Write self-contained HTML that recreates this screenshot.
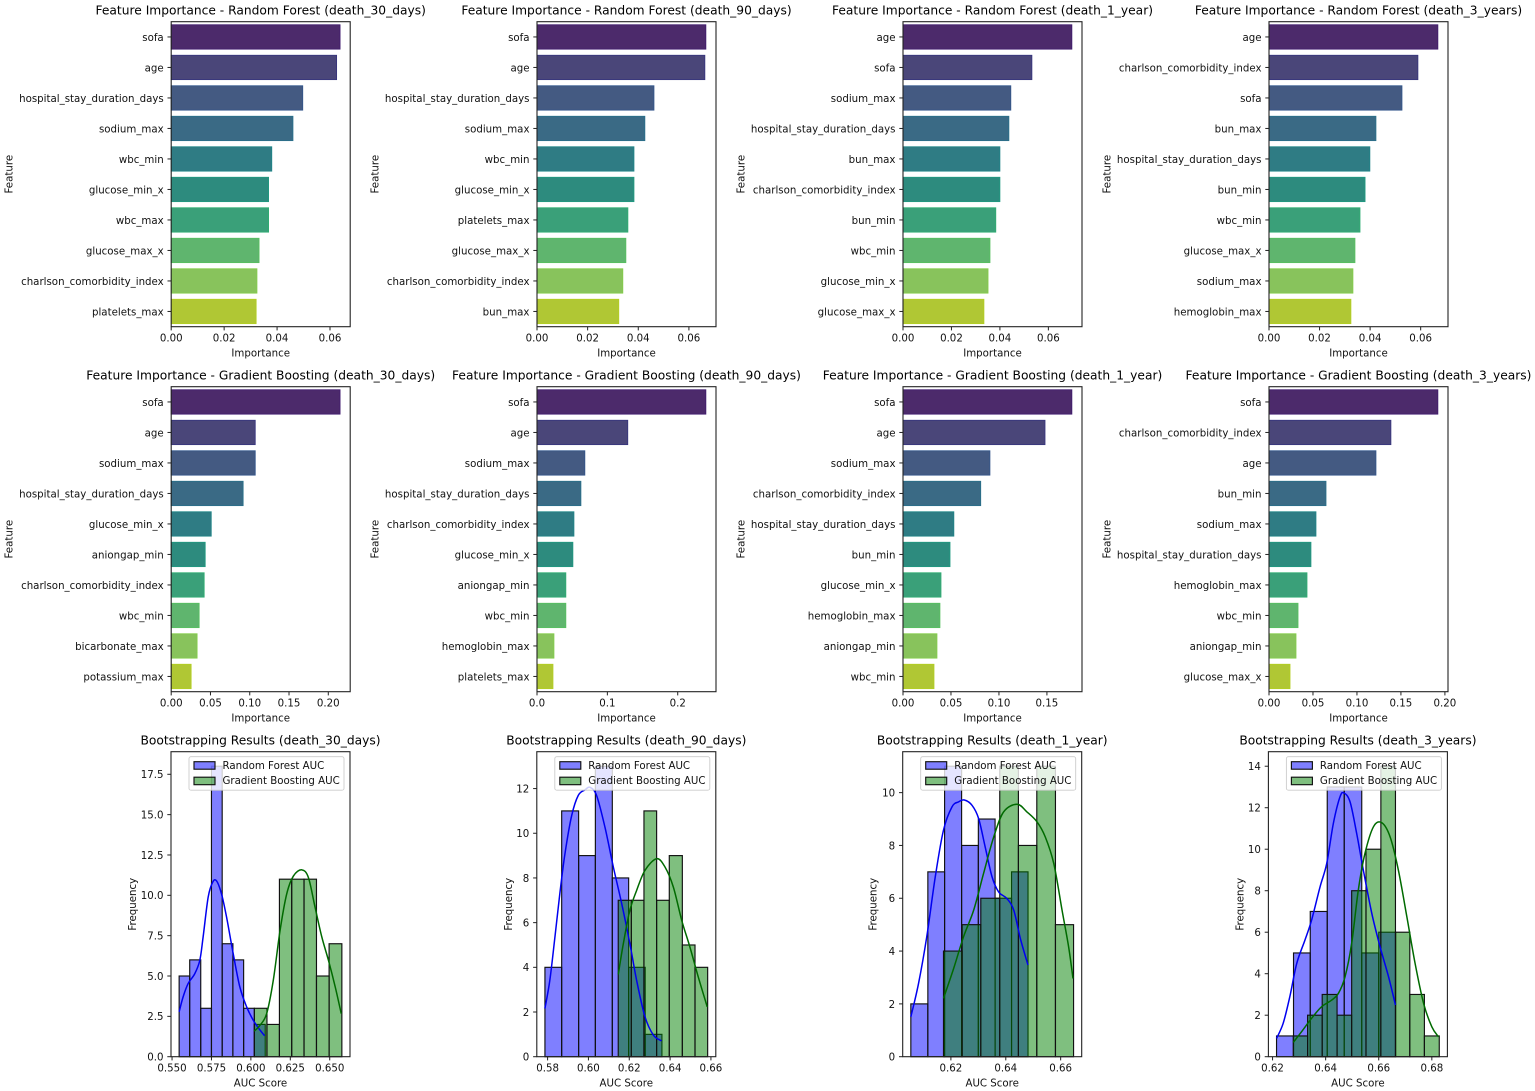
<!DOCTYPE html>
<html lang="en">
<head>
<meta charset="utf-8">
<title>Feature importance and bootstrapping results</title>
<style>
html,body{margin:0;padding:0;background:#fff;width:1535px;height:1091px;overflow:hidden}
svg{display:block;filter:blur(0.35px)}
text{font-family:"DejaVu Sans","Liberation Sans",sans-serif;font-size:10.23px;fill:#111}
.title{font-size:12.25px;text-anchor:middle;fill:#000}
.axl{text-anchor:middle}
.frame{fill:none;stroke:#222;stroke-width:1.1}
.lg{fill:#fff;fill-opacity:.8;stroke:#ccc;stroke-width:.9}
.rf{fill:#0000ff;fill-opacity:.5;stroke:#111;stroke-width:1.15}
.gb{fill:#008000;fill-opacity:.5;stroke:#111;stroke-width:1.15}
</style>
</head>
<body>
<svg id="fig" width="1535" height="1091" viewBox="0 0 1535 1091" xmlns="http://www.w3.org/2000/svg">
<rect width="1535" height="1091" fill="#fff"/>

<g transform="translate(171.2,21.7)">
<g id="m0"></g><rect class="frame" width="179" height="305"/><g id="t0"></g>
<text class="title" x="89.5" y="-7.2">Feature Importance - Random Forest (death_30_days)</text>
<text class="axl" x="89.5" y="335">Importance</text>
<text class="axl" transform="translate(-158.5,152.5) rotate(-90)">Feature</text>
</g>
<g transform="translate(537,21.7)">
<g id="m1"></g><rect class="frame" width="179" height="305"/><g id="t1"></g>
<text class="title" x="89.5" y="-7.2">Feature Importance - Random Forest (death_90_days)</text>
<text class="axl" x="89.5" y="335">Importance</text>
<text class="axl" transform="translate(-158.5,152.5) rotate(-90)">Feature</text>
</g>
<g transform="translate(903,21.7)">
<g id="m2"></g><rect class="frame" width="179" height="305"/><g id="t2"></g>
<text class="title" x="89.5" y="-7.2">Feature Importance - Random Forest (death_1_year)</text>
<text class="axl" x="89.5" y="335">Importance</text>
<text class="axl" transform="translate(-158.5,152.5) rotate(-90)">Feature</text>
</g>
<g transform="translate(1269,21.7)">
<g id="m3"></g><rect class="frame" width="179" height="305"/><g id="t3"></g>
<text class="title" x="89.5" y="-7.2">Feature Importance - Random Forest (death_3_years)</text>
<text class="axl" x="89.5" y="335">Importance</text>
<text class="axl" transform="translate(-158.5,152.5) rotate(-90)">Feature</text>
</g>

<g transform="translate(171.2,386.7)">
<g id="m4"></g><rect class="frame" width="179" height="305"/><g id="t4"></g>
<text class="title" x="89.5" y="-7.2">Feature Importance - Gradient Boosting (death_30_days)</text>
<text class="axl" x="89.5" y="335">Importance</text>
<text class="axl" transform="translate(-158.5,152.5) rotate(-90)">Feature</text>
</g>
<g transform="translate(537,386.7)">
<g id="m5"></g><rect class="frame" width="179" height="305"/><g id="t5"></g>
<text class="title" x="89.5" y="-7.2">Feature Importance - Gradient Boosting (death_90_days)</text>
<text class="axl" x="89.5" y="335">Importance</text>
<text class="axl" transform="translate(-158.5,152.5) rotate(-90)">Feature</text>
</g>
<g transform="translate(903,386.7)">
<g id="m6"></g><rect class="frame" width="179" height="305"/><g id="t6"></g>
<text class="title" x="89.5" y="-7.2">Feature Importance - Gradient Boosting (death_1_year)</text>
<text class="axl" x="89.5" y="335">Importance</text>
<text class="axl" transform="translate(-158.5,152.5) rotate(-90)">Feature</text>
</g>
<g transform="translate(1269,386.7)">
<g id="m7"></g><rect class="frame" width="179" height="305"/><g id="t7"></g>
<text class="title" x="89.5" y="-7.2">Feature Importance - Gradient Boosting (death_3_years)</text>
<text class="axl" x="89.5" y="335">Importance</text>
<text class="axl" transform="translate(-158.5,152.5) rotate(-90)">Feature</text>
</g>

<g transform="translate(171,751.7)">
<g id="m8"></g><rect class="frame" width="179" height="305"/><g id="t8"></g>
<text class="title" x="89.5" y="-7.2">Bootstrapping Results (death_30_days)</text>
<text class="axl" x="89.5" y="335">AUC Score</text>
<text class="axl" transform="translate(-35,152.5) rotate(-90)">Frequency</text>
<g><rect class="lg" x="18" y="5" width="155" height="33.5" rx="2"/><rect class="rf" x="23" y="10" width="21" height="7.5"/><text x="51.5" y="17.5">Random Forest AUC</text><rect class="gb" x="23" y="25.5" width="21" height="7.5"/><text x="51.5" y="32.5">Gradient Boosting AUC</text></g>
</g>
<g transform="translate(536.8,751.7)">
<g id="m9"></g><rect class="frame" width="179" height="305"/><g id="t9"></g>
<text class="title" x="89.5" y="-7.2">Bootstrapping Results (death_90_days)</text>
<text class="axl" x="89.5" y="335">AUC Score</text>
<text class="axl" transform="translate(-25,152.5) rotate(-90)">Frequency</text>
<g><rect class="lg" x="18" y="5" width="155" height="33.5" rx="2"/><rect class="rf" x="23" y="10" width="21" height="7.5"/><text x="51.5" y="17.5">Random Forest AUC</text><rect class="gb" x="23" y="25.5" width="21" height="7.5"/><text x="51.5" y="32.5">Gradient Boosting AUC</text></g>
</g>
<g transform="translate(902.7,751.7)">
<g id="m10"></g><rect class="frame" width="179" height="305"/><g id="t10"></g>
<text class="title" x="89.5" y="-7.2">Bootstrapping Results (death_1_year)</text>
<text class="axl" x="89.5" y="335">AUC Score</text>
<text class="axl" transform="translate(-26,152.5) rotate(-90)">Frequency</text>
<g><rect class="lg" x="18" y="5" width="155" height="33.5" rx="2"/><rect class="rf" x="23" y="10" width="21" height="7.5"/><text x="51.5" y="17.5">Random Forest AUC</text><rect class="gb" x="23" y="25.5" width="21" height="7.5"/><text x="51.5" y="32.5">Gradient Boosting AUC</text></g>
</g>
<g transform="translate(1268.4,751.7)">
<g id="m11"></g><rect class="frame" width="179" height="305"/><g id="t11"></g>
<text class="title" x="89.5" y="-7.2">Bootstrapping Results (death_3_years)</text>
<text class="axl" x="89.5" y="335">AUC Score</text>
<text class="axl" transform="translate(-25,152.5) rotate(-90)">Frequency</text>
<g><rect class="lg" x="18" y="5" width="155" height="33.5" rx="2"/><rect class="rf" x="23" y="10" width="21" height="7.5"/><text x="51.5" y="17.5">Random Forest AUC</text><rect class="gb" x="23" y="25.5" width="21" height="7.5"/><text x="51.5" y="32.5">Gradient Boosting AUC</text></g>
</g>
</svg>

<script>
// ---- Feature importance data ----
var rf30Features = ['sofa','age','hospital_stay_duration_days','sodium_max','wbc_min','glucose_min_x','wbc_max','glucose_max_x','charlson_comorbidity_index','platelets_max'];
var rf30Values = [0.0638,0.0625,0.0497,0.046,0.038,0.0368,0.0368,0.0332,0.0324,0.0321];
var rf30Ticks = ['0.00','0.02','0.04','0.06'];

var rf90Features = ['sofa','age','hospital_stay_duration_days','sodium_max','wbc_min','glucose_min_x','platelets_max','glucose_max_x','charlson_comorbidity_index','bun_max'];
var rf90Values = [0.0667,0.0663,0.0462,0.0426,0.0383,0.0383,0.0359,0.0351,0.0339,0.0323];
var rf90Ticks = ['0.00','0.02','0.04','0.06'];

var rf1yFeatures = ['age','sofa','sodium_max','hospital_stay_duration_days','bun_max','charlson_comorbidity_index','bun_min','wbc_min','glucose_min_x','glucose_max_x'];
var rf1yValues = [0.0697,0.0532,0.0445,0.0437,0.04,0.04,0.0383,0.0359,0.0351,0.0334];
var rf1yTicks = ['0.00','0.02','0.04','0.06'];

var rf3yFeatures = ['age','charlson_comorbidity_index','sofa','bun_max','hospital_stay_duration_days','bun_min','wbc_min','glucose_max_x','sodium_max','hemoglobin_max'];
var rf3yValues = [0.0668,0.0589,0.0526,0.0423,0.0399,0.038,0.036,0.034,0.0332,0.0324];
var rf3yTicks = ['0.00','0.02','0.04','0.06'];

var gb30Features = ['sofa','age','sodium_max','hospital_stay_duration_days','glucose_min_x','aniongap_min','charlson_comorbidity_index','wbc_min','bicarbonate_max','potassium_max'];
var gb30Values = [0.215,0.107,0.107,0.0916,0.051,0.0433,0.042,0.0356,0.033,0.0254];
var gb30Ticks = ['0.00','0.05','0.10','0.15','0.20'];

var gb90Features = ['sofa','age','sodium_max','hospital_stay_duration_days','charlson_comorbidity_index','glucose_min_x','aniongap_min','wbc_min','hemoglobin_max','platelets_max'];
var gb90Values = [0.24,0.129,0.068,0.0624,0.0525,0.051,0.041,0.041,0.0241,0.0227];
var gb90Ticks = ['0.0','0.1','0.2'];

var gb1yFeatures = ['sofa','age','sodium_max','charlson_comorbidity_index','hospital_stay_duration_days','bun_min','glucose_min_x','hemoglobin_max','aniongap_min','wbc_min'];
var gb1yValues = [0.176,0.148,0.0906,0.081,0.053,0.049,0.0396,0.0385,0.0354,0.0323];
var gb1yTicks = ['0.00','0.05','0.10','0.15'];

var gb3yFeatures = ['sofa','charlson_comorbidity_index','age','bun_min','sodium_max','hospital_stay_duration_days','hemoglobin_max','wbc_min','aniongap_min','glucose_max_x'];
var gb3yValues = [0.192,0.1386,0.1216,0.0648,0.0534,0.0477,0.0432,0.033,0.0307,0.0239];
var gb3yTicks = ['0.00','0.05','0.10','0.15','0.20'];

// ---- Bootstrapping data ----
var b30RfEdges = [0.5545,0.5612,0.5682,0.575,0.5818,0.5886,0.5954,0.6022,0.6091];
var b30RfCounts = [5,6,3,18,7,6,3,2];
var b30GbEdges = [0.6022,0.6102,0.6181,0.6259,0.6337,0.6416,0.6496,0.6577];
var b30GbCounts = [3,2,11,11,11,5,7];
var b30RfKdeX = [0.5545,0.557,0.5602,0.5644,0.5676,0.5697,0.5729,0.5757,0.5782,0.5814,0.5846,0.5888,0.593,0.5973,0.6015,0.6058,0.6087];
var b30RfKdeY = [2.78,3.7,4.53,5.14,5.97,7.41,9.88,10.8,10.9,10.08,8.64,6.38,4.32,3.09,2.26,1.65,1.3];
var b30GbKdeX = [0.6021,0.6058,0.61,0.6142,0.6185,0.6227,0.627,0.6323,0.6365,0.6407,0.645,0.6492,0.6535,0.6573];
var b30GbKdeY = [1.58,1.95,2.67,4.73,7.82,10.08,11.2,11.58,11.1,9.26,7.41,5.97,4.32,2.67];
var b30XTicks = ['0.550','0.575','0.600','0.625','0.650'];
var b30YTicks = ['0.0','2.5','5.0','7.5','10.0','12.5','15.0','17.5'];

var b90RfEdges = [0.5787,0.5869,0.5952,0.6034,0.6117,0.6197,0.6278,0.636];
var b90RfCounts = [4,11,9,13,8,4,1];
var b90GbEdges = [0.6146,0.621,0.6272,0.6334,0.6396,0.646,0.6522,0.6584];
var b90GbCounts = [7,7,11,7,9,5,4];
var b90RfKdeX = [0.5787,0.5811,0.5836,0.586,0.5885,0.5918,0.595,0.5983,0.6007,0.604,0.6081,0.6122,0.6163,0.6203,0.6236,0.6277,0.6318,0.6358];
var b90RfKdeY = [2.16,3.42,5.36,7.3,9.08,10.79,11.69,11.94,12.06,11.69,10.27,8.49,6.85,5.06,3.42,1.79,0.97,0.71];
var b90GbKdeX = [0.6146,0.6171,0.6203,0.6236,0.6277,0.6334,0.6375,0.6416,0.6457,0.6497,0.6538,0.6582];
var b90GbKdeY = [3.68,5.06,6.55,7.44,8.34,8.86,8.49,7.59,6.1,4.91,3.57,2.23];
var b90XTicks = ['0.58','0.60','0.62','0.64','0.66'];
var b90YTicks = ['0','2','4','6','8','10','12'];

var b1yRfEdges = [0.6054,0.6116,0.6177,0.6239,0.63,0.6361,0.6421,0.6481];
var b1yRfCounts = [2,7,11,8,9,6,7];
var b1yGbEdges = [0.6173,0.6241,0.6309,0.6378,0.6446,0.6513,0.6581,0.6647];
var b1yGbCounts = [4,5,6,11,8,11,5];
var b1yRfKdeX = [0.6054,0.6082,0.6112,0.6143,0.6173,0.6204,0.6228,0.6249,0.6277,0.6301,0.6325,0.635,0.6374,0.6404,0.6429,0.6453,0.6481];
var b1yRfKdeY = [1.51,2.77,4.54,6.81,8.58,9.46,9.65,9.72,9.52,9.02,7.94,6.81,6.24,5.99,5.55,4.48,3.47];
var b1yGbKdeX = [0.6173,0.621,0.6246,0.6283,0.6319,0.6356,0.6392,0.6441,0.6477,0.6514,0.6544,0.6575,0.6605,0.6629,0.6645];
var b1yGbKdeY = [2.21,3.34,4.54,5.55,6.94,8.32,9.27,9.56,9.27,8.89,8.32,7.31,5.55,4.16,2.96];
var b1yXTicks = ['0.62','0.64','0.66'];
var b1yYTicks = ['0','2','4','6','8','10'];

var b3yRfEdges = [0.6215,0.6279,0.6342,0.6406,0.647,0.6536,0.66,0.6664];
var b3yRfCounts = [1,5,7,13,13,5,6];
var b3yGbEdges = [0.6278,0.6332,0.6387,0.6443,0.6498,0.6552,0.6608,0.6663,0.6717,0.6772,0.6828];
var b3yGbCounts = [1,2,3,2,8,10,14,6,3,1];
var b3yRfKdeX = [0.6215,0.624,0.6265,0.6291,0.6322,0.6347,0.6379,0.6404,0.6429,0.6454,0.6469,0.6492,0.6517,0.6542,0.6574,0.6605,0.6637,0.6663];
var b3yRfKdeY = [0.88,1.61,2.89,4.49,5.62,6.58,8.19,9.31,11.24,12.52,12.71,12.28,10.75,8.99,6.9,5.3,3.85,2.49];
var b3yGbKdeX = [0.6278,0.6309,0.6347,0.6385,0.6423,0.6448,0.6473,0.6498,0.6523,0.6548,0.658,0.6611,0.6643,0.6674,0.6706,0.6737,0.6769,0.68,0.6825];
var b3yGbKdeY = [0.69,1.2,1.85,2.41,2.73,3.05,3.85,5.46,8.03,9.79,11.08,11.28,10.59,8.99,6.74,4.49,2.57,1.44,0.96];
var b3yXTicks = ['0.62','0.64','0.66','0.68'];
var b3yYTicks = ['0','2','4','6','8','10','12','14'];

var barFill = ['#4c2a6b','#4a4679','#445a82','#3a6a85','#2f7c84','#2d8b7e','#3aa079','#5fb56e','#88c35c','#b0c734'];
var barEdge = ['#3f1a6e','#35337e','#31548a','#27708a','#1f8587','#1f9a80','#2fae72','#56c05f','#83cd48','#b3cf20'];

var W = 179, H = 305;
var NS = 'http://www.w3.org/2000/svg';
function mk(parent, tag) {
  var e = document.createElementNS(NS, tag);
  parent.appendChild(e);
  return e;
}
function xTicks(g, labels, sx) {
  labels.forEach(function (lab) {
    var x = sx(parseFloat(lab));
    var t = mk(g, 'line');
    
    
    t.setAttribute('x1', x); t.setAttribute('x2', x);
    t.setAttribute('y1', H); t.setAttribute('y2', H + 3.7);
    t.setAttribute('stroke', '#222'); t.setAttribute('stroke-width', '1');
    var l = mk(g, 'text');
    
    
    l.setAttribute('x', x); l.setAttribute('y', H + 15);
    l.setAttribute('text-anchor', 'middle');
    l.textContent = lab;
  });
}
function yTick(g, y, lab) {
  var t = mk(g, 'line');
  
  
  t.setAttribute('x1', -3.7); t.setAttribute('x2', 0);
  t.setAttribute('y1', y); t.setAttribute('y2', y);
  t.setAttribute('stroke', '#222'); t.setAttribute('stroke-width', '1');
  var l = mk(g, 'text');
  
  
  l.setAttribute('x', -7.5); l.setAttribute('y', y + 3.9);
  l.setAttribute('text-anchor', 'end');
  l.textContent = lab;
}
function drawBars(idx, features, values, ticks) {
  var m = document.getElementById('m' + idx), g = document.getElementById('t' + idx);
  var xmax = Math.max.apply(null, values) * 1.06;
  var sx = function (v) { return v / xmax * W; };
  var step = H / features.length;
  var sy = function (i) { return (i + 0.5) * step; };
  values.forEach(function (v, i) {
    var r = mk(m, 'rect');
    
    
    r.setAttribute('x', 0);
    r.setAttribute('y', sy(i) - 0.4 * step);
    r.setAttribute('width', sx(v));
    r.setAttribute('height', 0.8 * step);
    r.setAttribute('fill', barFill[i]);
    r.setAttribute('stroke', barEdge[i]);
    r.setAttribute('stroke-width', '0.8');
    yTick(g, sy(i), features[i]);
  });
  xTicks(g, ticks, sx);
}
function smooth(xs, ys) {
  var d = 'M' + xs[0].toFixed(2) + ',' + ys[0].toFixed(2);
  for (var i = 0; i < xs.length - 1; i++) {
    var a = Math.max(i - 1, 0), b = Math.min(i + 2, xs.length - 1);
    d += 'C' + (xs[i] + (xs[i + 1] - xs[a]) / 6).toFixed(2) + ',' + (ys[i] + (ys[i + 1] - ys[a]) / 6).toFixed(2) + ' ' +
      (xs[i + 1] - (xs[b] - xs[i]) / 6).toFixed(2) + ',' + (ys[i + 1] - (ys[b] - ys[i]) / 6).toFixed(2) + ' ' +
      xs[i + 1].toFixed(2) + ',' + ys[i + 1].toFixed(2);
  }
  return d;
}
function drawHist(idx, rfE, rfC, gbE, gbC, rfKx, rfKy, gbKx, gbKy, xt, yt) {
  var m = document.getElementById('m' + idx), g = document.getElementById('t' + idx);
  var lo = Math.min(rfE[0], gbE[0]), hi = Math.max(rfE[rfE.length - 1], gbE[gbE.length - 1]);
  var pad = (hi - lo) * 0.05;
  var x0 = lo - pad, x1 = hi + pad;
  var ymax = Math.max(Math.max.apply(null, rfC), Math.max.apply(null, gbC)) * 1.05;
  var sx = function (v) { return (v - x0) / (x1 - x0) * W; };
  var sy = function (v) { return H - v / ymax * H; };
  rfC.forEach(function (c, i) {
    var r = mk(m, 'rect');
    
    
    r.setAttribute('class', 'rf');
    r.setAttribute('x', sx(rfE[i]));
    r.setAttribute('y', sy(c));
    r.setAttribute('width', sx(rfE[i + 1]) - sx(rfE[i]));
    r.setAttribute('height', H - sy(c));
  });
  gbC.forEach(function (c, i) {
    var r = mk(m, 'rect');
    
    
    r.setAttribute('class', 'gb');
    r.setAttribute('x', sx(gbE[i]));
    r.setAttribute('y', sy(c));
    r.setAttribute('width', sx(gbE[i + 1]) - sx(gbE[i]));
    r.setAttribute('height', H - sy(c));
  });
  var p1 = mk(m, 'path');
  
  
  p1.setAttribute('d', smooth(rfKx.map(sx), rfKy.map(sy)));
  p1.setAttribute('fill', 'none');
  p1.setAttribute('stroke', '#0000f0');
  p1.setAttribute('stroke-width', '1.5');
  var p2 = mk(m, 'path');
  
  
  p2.setAttribute('d', smooth(gbKx.map(sx), gbKy.map(sy)));
  p2.setAttribute('fill', 'none');
  p2.setAttribute('stroke', '#006a00');
  p2.setAttribute('stroke-width', '1.5');
  xTicks(g, xt, sx);
  yt.forEach(function (lab) { yTick(g, sy(parseFloat(lab)), lab); });
}
drawBars(0, rf30Features, rf30Values, rf30Ticks);
drawBars(1, rf90Features, rf90Values, rf90Ticks);
drawBars(2, rf1yFeatures, rf1yValues, rf1yTicks);
drawBars(3, rf3yFeatures, rf3yValues, rf3yTicks);
drawBars(4, gb30Features, gb30Values, gb30Ticks);
drawBars(5, gb90Features, gb90Values, gb90Ticks);
drawBars(6, gb1yFeatures, gb1yValues, gb1yTicks);
drawBars(7, gb3yFeatures, gb3yValues, gb3yTicks);
drawHist(8, b30RfEdges, b30RfCounts, b30GbEdges, b30GbCounts, b30RfKdeX, b30RfKdeY, b30GbKdeX, b30GbKdeY, b30XTicks, b30YTicks);
drawHist(9, b90RfEdges, b90RfCounts, b90GbEdges, b90GbCounts, b90RfKdeX, b90RfKdeY, b90GbKdeX, b90GbKdeY, b90XTicks, b90YTicks);
drawHist(10, b1yRfEdges, b1yRfCounts, b1yGbEdges, b1yGbCounts, b1yRfKdeX, b1yRfKdeY, b1yGbKdeX, b1yGbKdeY, b1yXTicks, b1yYTicks);
drawHist(11, b3yRfEdges, b3yRfCounts, b3yGbEdges, b3yGbCounts, b3yRfKdeX, b3yRfKdeY, b3yGbKdeX, b3yGbKdeY, b3yXTicks, b3yYTicks);
</script>
</body>
</html>
